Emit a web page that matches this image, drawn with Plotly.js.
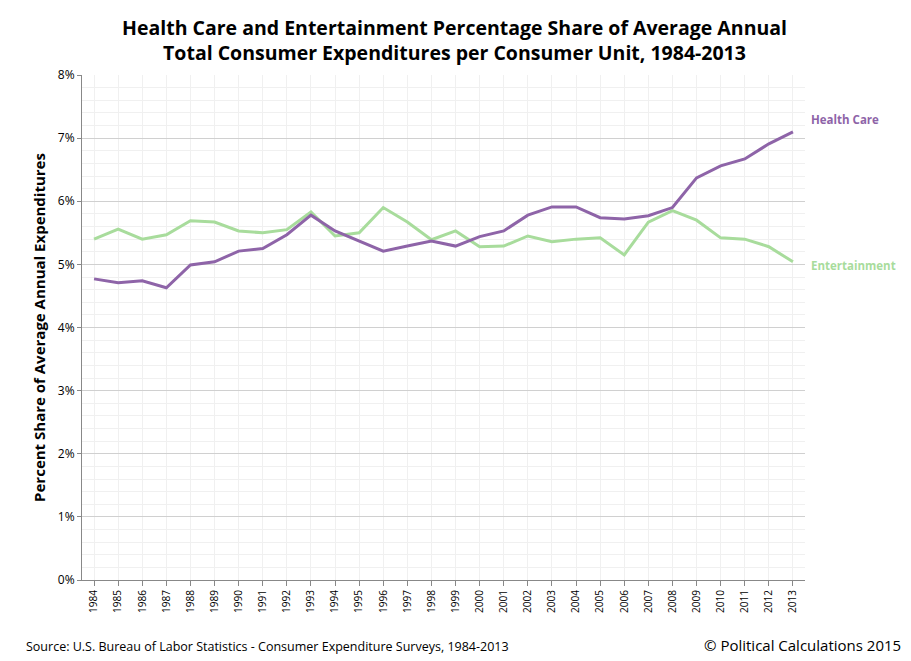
<!DOCTYPE html>
<html>
<head>
<meta charset="utf-8">
<script src="https://cdn.plot.ly/plotly-3.0.1.min.js"></script>
<style>body{margin:0;background:#fff}#chart{width:911px;height:661px}</style>
</head>
<body>
<div id="chart"></div>
<script>
var years = ['1984','1985','1986','1987','1988','1989','1990','1991','1992','1993','1994','1995','1996','1997','1998',
             '1999','2000','2001','2002','2003','2004','2005','2006','2007','2008','2009','2010','2011','2012','2013'];
var healthCare = [4.77,4.71,4.74,4.63,4.99,5.04,5.21,5.25,5.47,5.78,5.53,5.37,5.21,5.29,5.37,
                  5.29,5.44,5.53,5.78,5.91,5.91,5.74,5.72,5.77,5.90,6.37,6.56,6.67,6.91,7.10];
var entertainment = [5.40,5.56,5.40,5.47,5.69,5.67,5.53,5.50,5.55,5.83,5.45,5.50,5.90,5.67,5.39,
                     5.53,5.28,5.29,5.45,5.36,5.40,5.42,5.15,5.67,5.85,5.70,5.42,5.40,5.28,5.04];
var yTicks = [0,1,2,3,4,5,6,7,8];

var purple = '#8e64a8', green = '#a8dc9c';
var font = 'Open Sans, Liberation Sans, sans-serif';

Plotly.newPlot('chart', [{
    x: years, y: entertainment, mode: 'lines', name: 'Entertainment',
    line: {color: green, width: 3}
}, {
    x: years, y: healthCare, mode: 'lines', name: 'Health Care',
    line: {color: purple, width: 3}
}], {
    width: 911, height: 661,
    margin: {l: 82, r: 106, t: 75, b: 81},
    paper_bgcolor: '#fff', plot_bgcolor: '#fff',
    showlegend: false,
    font: {family: font, color: '#000'},
    xaxis: {
        type: 'category', tickangle: -90, tickfont: {size: 10},
        showgrid: true, gridcolor: '#f0f0f0', showline: true, linecolor: '#888',
        ticks: 'outside', ticklen: 5, tickcolor: '#888', range: [-0.5, 29.5]
    },
    yaxis: {
        range: [0, 8], tickvals: yTicks, ticktext: yTicks.map(function(v){return v + '%';}),
        tickfont: {size: 12}, gridcolor: '#d0d0d0', showline: true, linecolor: '#888',
        ticks: 'outside', ticklen: 4, tickcolor: '#888',
        minor: {dtick: 0.2, showgrid: true, gridcolor: '#f0f0f0'},
        title: {text: '<b>Percent Share of Average Annual Expenditures</b>', font: {size: 15}, standoff: 8}
    },
    annotations: [
        {x: 455, xref: 'paper', x: 0.515, y: 1.125, yref: 'paper', xanchor: 'center', yanchor: 'top', showarrow: false,
         text: '<b>Health Care and Entertainment Percentage Share of Average Annual<br>Total Consumer Expenditures per Consumer Unit, 1984-2013</b>',
         font: {size: 19.5}},
        {x: 1.005, xref: 'paper', y: 7.3, text: '<b>Health Care</b>', showarrow: false, xanchor: 'left',
         font: {size: 11.5, color: purple}},
        {x: 1.005, xref: 'paper', y: 4.98, text: '<b>Entertainment</b>', showarrow: false, xanchor: 'left',
         font: {size: 11.5, color: green}},
        {x: -0.08, xref: 'paper', y: -0.11, yref: 'paper', text: 'Source: U.S. Bureau of Labor Statistics - Consumer Expenditure Surveys, 1984-2013',
         showarrow: false, xanchor: 'left', yanchor: 'top', font: {size: 12.5}},
        {x: 1.135, xref: 'paper', y: -0.105, yref: 'paper', text: '© Political Calculations 2015',
         showarrow: false, xanchor: 'right', yanchor: 'top', font: {size: 15}}
    ]
}, {displayModeBar: false});
</script>
</body>
</html>
